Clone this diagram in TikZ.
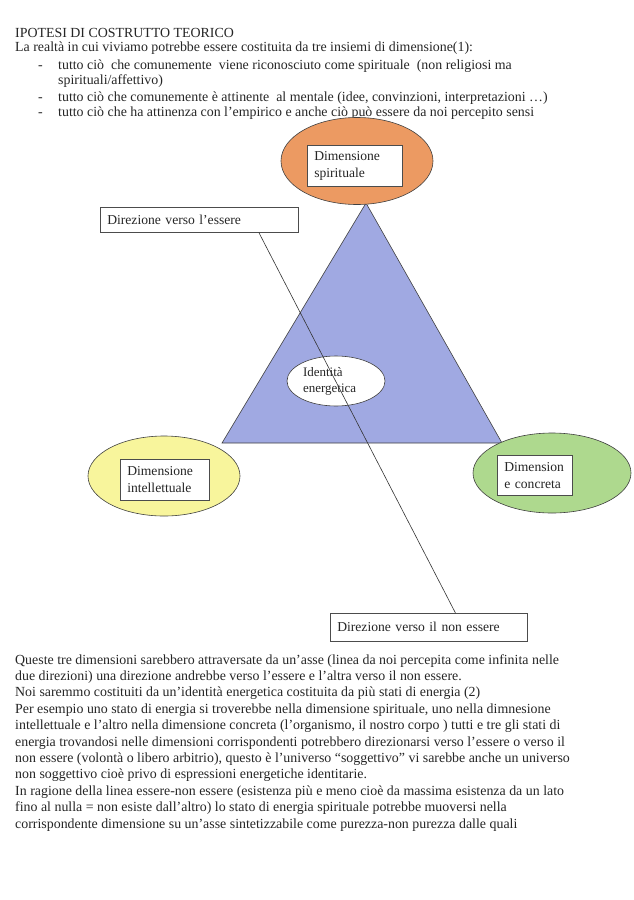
\documentclass[tikz,border=0pt]{standalone}
\usepackage{fontspec}
\setmainfont{Liberation Serif}
\usetikzlibrary{shapes.geometric,calc}
\definecolor{inkc}{HTML}{262626}
\definecolor{orangef}{HTML}{EC9A62}
\definecolor{triaf}{HTML}{A0A9E2}
\definecolor{yellowf}{HTML}{F8F59C}
\definecolor{greenf}{HTML}{AED98E}
\tikzset{
  txt/.style={anchor=base west, inner sep=0pt, text=inkc, font=\fontsize{13.9}{16}\selectfont},
  lbl/.style={draw=black!70, fill=white, line width=0.6pt, inner xsep=7pt, inner ysep=0pt,
    anchor=north west, align=left, text=inkc, font=\fontsize{13.6}{17}\selectfont},
  ell/.style={ellipse, draw=black!75, line width=0.6pt, inner sep=0pt},
  axis/.style={draw=black!80, line width=0.6pt}
}
\begin{document}
\begin{tikzpicture}[x=1pt,y=-1pt]
\useasboundingbox[fill=white] (0,0) rectangle (634,900);
% top text
\node[txt] (t0) at (15,37) {IPOTESI DI COSTRUTTO TEORICO};
\node[txt] (t1) at (15,51) {La realtà in cui viviamo potrebbe essere costituita da tre insiemi di dimensione(1):};
\node[txt] (d1) at (38,69) {-};
\node[txt] (t2) at (58,69) {tutto ciò \ che comunemente \ viene riconosciuto come spirituale \ (non religiosi ma};
\node[txt] (t3) at (58,84) {spirituali/affettivo)};
\node[txt] (d2) at (38,101) {-};
\node[txt] (t4) at (58,101) {tutto ciò che comunemente è attinente \ al mentale (idee, convinzioni, interpretazioni …)};
\node[txt] (d3) at (38,116) {-};
\node[txt] (t5) at (58,116) {tutto ciò che ha attinenza con l’empirico e anche ciò può essere da noi percepito sensi};
% triangle
\coordinate (A) at (366,203);
\coordinate (B) at (222,443);
\coordinate (C) at (502,443);
\filldraw[fill=triaf, draw=black!75, line width=0.6pt] (A) -- (B) -- (C) -- cycle;
% ellipses
\node[ell, fill=orangef, minimum width=152, minimum height=87] (sp) at (357,161) {};
\node[ell, fill=yellowf, minimum width=152, minimum height=80] (in) at (164,476) {};
\node[ell, fill=greenf, minimum width=158, minimum height=80] (co) at (552,473) {};
\node[ell, fill=white, minimum width=98, minimum height=50, text width=66, align=left, text=inkc,
  font=\fontsize{13}{16}\selectfont] (id) at (336,381) {Identità\\energetica};
% boxes
\node[lbl, text width=81, minimum height=41] (spb) at (307,145) {Dimensione\\spirituale};
\node[lbl, text width=75, minimum height=41] (inb) at (120,459) {Dimensione\\intellettuale};
\node[lbl, text width=61, minimum height=40] (cob) at (497,455) {Dimension\\e concreta};
\node[lbl, text width=184, minimum height=25] (ess) at (100,207) {Direzione verso l’essere};
\node[lbl, text width=183, minimum height=28] (non) at (330,613) {Direzione verso il non essere};
% axis
\draw[axis] ($(ess.south west)!0.80!(ess.south east)$) -- ($(non.north west)!0.635!(non.north east)$);
% bottom text
\foreach \i/\s in {0/{Queste tre dimensioni sarebbero attraversate da un’asse (linea da noi percepita come infinita nelle},
  1/{due direzioni) una direzione andrebbe verso l’essere e l’altra verso il non essere.},
  2/{Noi saremmo costituiti da un’identità energetica costituita da più stati di energia (2)},
  3/{Per esempio uno stato di energia si troverebbe nella dimensione spirituale, uno nella dimnesione},
  4/{intellettuale e l’altro nella dimensione concreta (l’organismo, il nostro corpo ) tutti e tre gli stati di},
  5/{energia trovandosi nelle dimensioni corrispondenti potrebbero direzionarsi verso l’essere o verso il},
  6/{non essere (volontà o libero arbitrio), questo è l’universo “soggettivo” vi sarebbe anche un universo},
  7/{non soggettivo cioè privo di espressioni energetiche identitarie.},
  8/{In ragione della linea essere-non essere (esistenza più e meno cioè da massima esistenza da un lato},
  9/{fino al nulla = non esiste dall’altro) lo stato di energia spirituale potrebbe muoversi nella},
  10/{corrispondente dimensione su un’asse sintetizzabile come purezza-non purezza dalle quali}}
  {\node[txt] (b\i) at (15,{664+16.4*\i}) {\s};}
\end{tikzpicture}
\end{document}
